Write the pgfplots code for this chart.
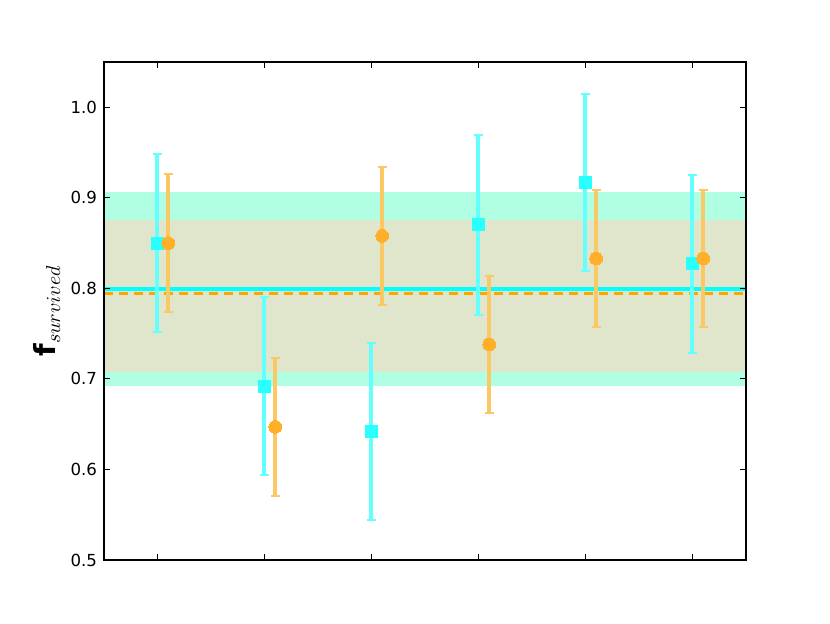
\documentclass[border=0pt]{standalone}
\usepackage{pgfplots}
\pgfplotsset{compat=1.18}
\usepackage{fontspec}
\setmainfont{DejaVu Sans}
\definecolor{bandcyan}{RGB}{176,255,226}
\definecolor{bandmix}{RGB}{224,230,204}
\definecolor{errcyan}{RGB}{100,255,255}
\definecolor{errorange}{RGB}{250,200,100}
\definecolor{mkcyan}{RGB}{40,255,255}
\definecolor{mkorange}{RGB}{255,175,40}
\definecolor{lnorange}{RGB}{255,165,0}
\definecolor{lncyan}{RGB}{0,255,255}
\pgfplotstableread{
x y ey
0.5 0.850 0.098
1.5 0.692 0.098
2.5 0.642 0.098
3.5 0.870 0.099
4.5 0.917 0.098
5.5 0.827 0.098
}\cyandata
\pgfplotstableread{
x y ey
0.6 0.850 0.076
1.6 0.647 0.076
2.6 0.858 0.076
3.6 0.738 0.076
4.6 0.833 0.076
5.6 0.833 0.076
}\orangedata
\begin{document}
\begin{tikzpicture}
\path[use as bounding box] (0,0) rectangle (415pt,311.5pt);
\begin{axis}[
  at={(52pt,31.5pt)}, anchor=south west,
  scale only axis, width=321pt, height=249pt,
  xmin=0, xmax=6, ymin=0.5, ymax=1.05,
  xtick={0.5,1.5,2.5,3.5,4.5,5.5}, xticklabels={},
  ytick={0.5,0.6,0.7,0.8,0.9,1.0},
  yticklabel style={/pgf/number format/fixed,/pgf/number format/precision=1,/pgf/number format/fixed zerofill,/pgf/number format/assume math mode=true},
  tick label style={font=\fontsize{8.3}{10}\selectfont},
  tick align=inside, major tick length=3pt,
  every tick/.style={black, line width=0.5pt},
  axis line style={line width=0.75pt},
  axis on top,
  ylabel={\textbf{f}$_{survived}$},
  ylabel style={at={(axis description cs:-0.089,0.5)}, anchor=center, rotate=0, font=\fontsize{14.5}{16}\selectfont},
]
\addplot[fill=bandcyan, draw=none] coordinates {(0,0.692) (6,0.692) (6,0.906) (0,0.906)} -- cycle;
\addplot[fill=bandmix, draw=none] coordinates {(0,0.708) (6,0.708) (6,0.876) (0,0.876)} -- cycle;
\addplot[lncyan, line width=2pt] coordinates {(0,0.799) (6,0.799)};
\addplot[lnorange, line width=1.5pt, dash pattern=on 4.5pt off 3pt] coordinates {(0,0.794) (6,0.794)};
\addplot[mkcyan, only marks, mark=square*, mark size=3pt, mark options={draw=mkcyan, fill=mkcyan, line width=0pt},
  error bars/.cd, y dir=both, y explicit,
  error bar style={errcyan, line width=2pt},
  error mark options={errcyan, rotate=90, mark size=2.2pt, line width=1pt}]
  table[x=x, y=y, y error=ey] {\cyandata};
\addplot[mkorange, only marks, mark=*, mark size=3.2pt, mark options={draw=mkorange, fill=mkorange, line width=0pt},
  error bars/.cd, y dir=both, y explicit,
  error bar style={errorange, line width=2pt},
  error mark options={errorange, rotate=90, mark size=2.2pt, line width=1pt}]
  table[x=x, y=y, y error=ey] {\orangedata};
\end{axis}
\end{tikzpicture}
\end{document}
